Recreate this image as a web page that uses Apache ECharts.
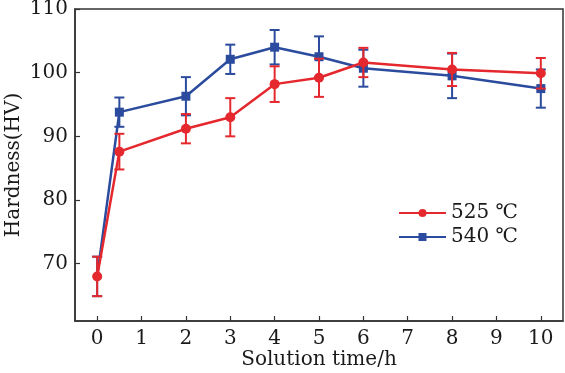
<!DOCTYPE html>
<html>
<head>
<meta charset="utf-8">
<script src="https://cdn.jsdelivr.net/npm/echarts@6/dist/echarts.min.js"></script>
<style>
html,body{margin:0;padding:0;background:#fff;}
#chart{width:565px;height:373px;}
</style>
</head>
<body>
<div id="chart"></div>
<script>
var times = [0, 0.5, 2, 3, 4, 5, 6, 8, 10];
var hard525 = [68.0, 87.6, 91.2, 93.0, 98.2, 99.2, 101.6, 100.5, 99.9];
var err525  = [3.1, 2.8, 2.3, 3.0, 2.8, 3.0, 2.3, 2.6, 2.4];
var hard540 = [68.0, 93.8, 96.3, 102.1, 104.0, 102.5, 100.7, 99.5, 97.5];
var err540  = [3.1, 2.3, 3.0, 2.3, 2.7, 3.2, 2.9, 3.5, 3.0];
var xTicks = [0, 1, 2, 3, 4, 5, 6, 7, 8, 9, 10];
var yTicks = [70, 80, 90, 100, 110];
var seriesNames = ['525 \u2103', '540 \u2103'];

var RED = '#e5282d';
var BLUE = '#2b4b9e';
var FONT = 'DejaVu Serif';
var TXT = '#1a1a1a';

function pairs(vals) {
  return times.map(function (t, i) { return [t, vals[i]]; });
}
function errData(vals, errs) {
  return times.map(function (t, i) { return [t, vals[i] - errs[i], vals[i] + errs[i]]; });
}
function errSeries(vals, errs, color, z) {
  return {
    type: 'custom',
    name: 'err-' + color,
    z: z,
    data: errData(vals, errs),
    renderItem: function (params, api) {
      var x = api.value(0);
      var lo = api.coord([x, api.value(1)]);
      var hi = api.coord([x, api.value(2)]);
      var hw = 5;
      var st = { stroke: color, lineWidth: 2 };
      return {
        type: 'group',
        children: [
          { type: 'line', shape: { x1: lo[0], y1: lo[1], x2: hi[0], y2: hi[1] }, style: st },
          { type: 'line', shape: { x1: lo[0] - hw, y1: lo[1], x2: lo[0] + hw, y2: lo[1] }, style: st },
          { type: 'line', shape: { x1: hi[0] - hw, y1: hi[1], x2: hi[0] + hw, y2: hi[1] }, style: st }
        ]
      };
    }
  };
}

var chart = echarts.init(document.getElementById('chart'));
chart.setOption({
  animation: false,
  backgroundColor: '#fff',
  textStyle: { fontFamily: FONT },
  grid: { left: 75, right: 2, top: 9, bottom: 52, show: true, borderColor: '#333', borderWidth: 1.5, outerBoundsMode: 'none', containLabel: false },
  legend: {
    data: seriesNames,
    left: 398, top: 203, padding: 0,
    orient: 'vertical',
    itemWidth: 47, itemHeight: 10, itemGap: 4,
    textStyle: { fontFamily: FONT, fontSize: 20, color: TXT }
  },
  xAxis: {
    type: 'value', min: -0.5, max: 10.5,
    name: 'Solution time/h', nameLocation: 'middle', nameGap: 29, nameMoveOverlap: false,
    nameTextStyle: { fontFamily: FONT, fontSize: 20, color: TXT },
    axisLine: { show: true, onZero: false, lineStyle: { color: '#333', width: 1.5 } },
    axisTick: { show: true, inside: true, length: 5, customValues: xTicks, lineStyle: { color: '#333', width: 1.2 } },
    axisLabel: { customValues: xTicks, margin: 8, fontFamily: FONT, fontSize: 20, color: TXT },
    splitLine: { show: false }
  },
  yAxis: {
    type: 'value', min: 61, max: 110,
    name: 'Hardness(HV)', nameLocation: 'middle', nameGap: 51, nameMoveOverlap: false,
    nameTextStyle: { fontFamily: FONT, fontSize: 20, color: TXT },
    axisLine: { show: true, onZero: false, lineStyle: { color: '#333', width: 1.5 } },
    axisTick: { show: true, inside: true, length: 5, customValues: yTicks, lineStyle: { color: '#333', width: 1.2 } },
    axisLabel: { customValues: yTicks, margin: 7, fontFamily: FONT, fontSize: 20, color: TXT },
    splitLine: { show: false }
  },
  series: [
    errSeries(hard540, err540, BLUE, 2),
    {
      type: 'line', name: seriesNames[1], data: pairs(hard540), z: 3,
      symbol: 'rect',
      symbolSize: function (v, p) { return p.dataIndex === 0 ? 0 : 9; },
      lineStyle: { color: BLUE, width: 2.5 },
      itemStyle: { color: BLUE }
    },
    errSeries(hard525, err525, RED, 4),
    {
      type: 'line', name: seriesNames[0], data: pairs(hard525), z: 5,
      symbol: 'circle', symbolSize: 10,
      lineStyle: { color: RED, width: 2.5 },
      itemStyle: { color: RED }
    }
  ]
});
</script>
</body>
</html>
